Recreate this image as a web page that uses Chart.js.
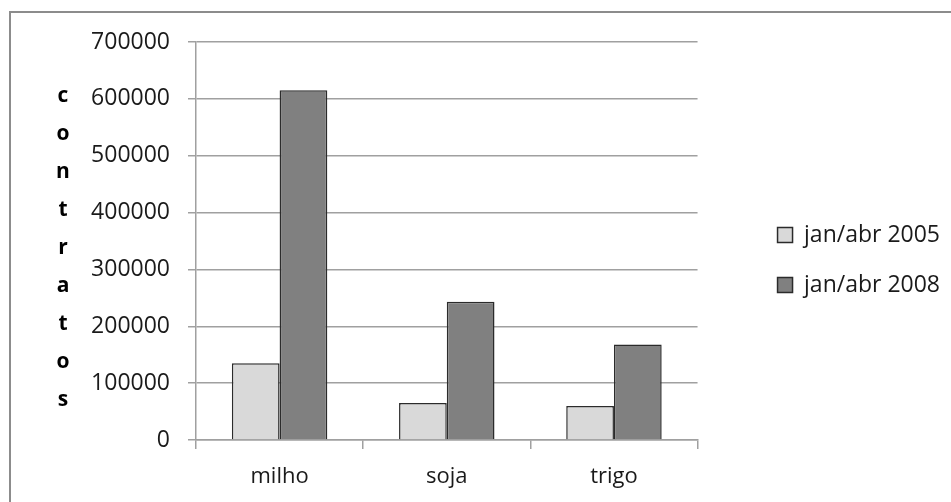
<!DOCTYPE html>
<html>
<head>
<meta charset="utf-8">
<script src="https://cdn.jsdelivr.net/npm/chart.js@4"></script>
<style>
  body { margin: 0; background: #fff; overflow: hidden; }
  #frame { position: absolute; left: 9px; top: 11px; width: 1000px; height: 600px; border: 2px solid #8c8c8c; }
  #wrap { position: absolute; left: 0; top: 0; width: 951px; height: 502px; }
</style>
</head>
<body>
<div id="frame"></div>
<div id="wrap"><canvas id="myChart"></canvas></div>
<script>
const categories = ["milho", "soja", "trigo"];
const seriesNames = ["jan/abr 2005", "jan/abr 2008"];
const values2005 = [135000, 65000, 60000];
const values2008 = [615000, 243000, 168000];
const axisTitle = "contratos";

const ctx = document.getElementById('myChart');
const fontFamily = "'Open Sans', sans-serif";

// stacked vertical letters for the y axis title
const letterTitle = {
    id: 'letterTitle',
    afterDraw(chart) {
        const c = chart.ctx;
        c.save();
        c.font = "bold 21px " + fontFamily;
        c.fillStyle = '#000';
        c.textAlign = 'center';
        c.textBaseline = 'alphabetic';
        axisTitle.split('').forEach((ch, i) => {
            c.fillText(ch, 63, 102 + i * 38);
        });
        c.restore();
    }
};

new Chart(ctx, {
    type: 'bar',
    plugins: [letterTitle],
    data: {
        labels: categories,
        datasets: [{
            label: seriesNames[0],
            data: values2005,
            backgroundColor: '#d9d9d9',
            borderColor: '#2b2b2b',
            borderWidth: 1.5,
            categoryPercentage: 0.571,
            barPercentage: 1.0
        }, {
            label: seriesNames[1],
            data: values2008,
            backgroundColor: '#808080',
            borderColor: '#2b2b2b',
            borderWidth: 1.5,
            categoryPercentage: 0.571,
            barPercentage: 1.0
        }]
    },
    options: {
        responsive: true,
        maintainAspectRatio: false,
        animation: false,
        layout: {
            padding: { top: 42, right: 1, bottom: 0, left: 0 }
        },
        plugins: {
            tooltip: { enabled: false },
            legend: {
                position: 'right',
                align: 'start',
                maxWidth: 240,
                title: { display: true, text: '', font: { size: 10 }, padding: { top: 142.5, bottom: 0 } },
                labels: {
                    boxWidth: 15,
                    boxHeight: 15,
                    padding: 27,
                    color: '#1a1a1a',
                    font: { family: fontFamily, size: 23 }
                }
            }
        },
        scales: {
            x: {
                offset: true,
                grid: {
                    offset: true,
                    drawOnChartArea: false,
                    drawTicks: true,
                    tickLength: 9,
                    color: '#a0a0a0',
                    lineWidth: 1.5
                },
                border: { display: true, color: '#a0a0a0', width: 1.5 },
                ticks: {
                    padding: 15,
                    color: '#1a1a1a',
                    font: { family: fontFamily, size: 22 }
                },
                afterFit(scale) { scale.height = 62; }
            },
            y: {
                min: 0,
                max: 700000,
                ticks: {
                    stepSize: 100000,
                    padding: 18,
                    color: '#1a1a1a',
                    font: { family: fontFamily, size: 23 },
                    callback: v => String(v)
                },
                grid: {
                    color: '#a0a0a0',
                    lineWidth: 1.5,
                    tickLength: 8
                },
                border: { display: true, color: '#a0a0a0', width: 1.5 },
                afterFit(scale) { scale.width = 196; }
            },
            gap: {
                type: 'linear',
                position: 'right',
                display: true,
                grid: { display: false },
                border: { display: false },
                ticks: { display: false },
                afterFit(scale) { scale.width = 53; }
            }
        }
    }
});
</script>
</body>
</html>
